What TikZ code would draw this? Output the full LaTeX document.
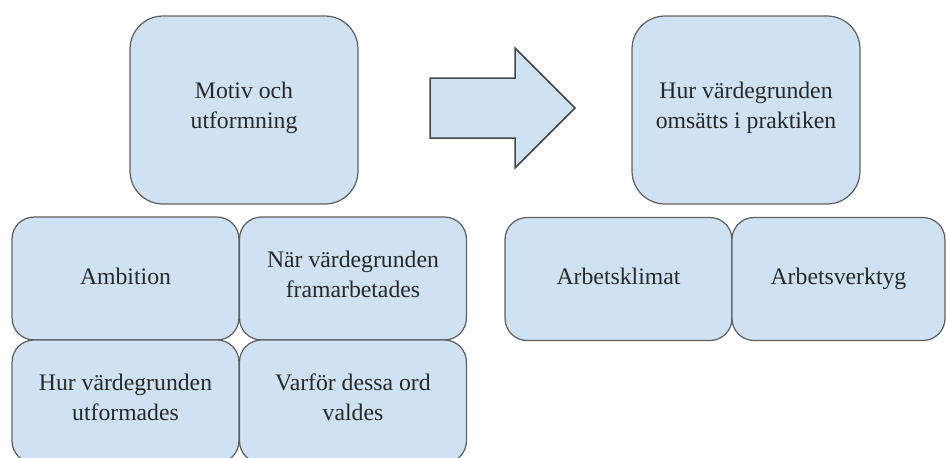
\documentclass[tikz,border=0pt]{standalone}
\usepackage{fontspec}
\setmainfont{Liberation Serif}
\usetikzlibrary{positioning}
\definecolor{boxblue}{RGB}{207,226,243}
\definecolor{boxline}{RGB}{95,95,95}
\definecolor{arrowline}{RGB}{70,70,70}
\definecolor{textgray}{RGB}{40,40,40}

\begin{document}
\begin{tikzpicture}[x=0.02cm,y=-0.02cm,on grid,
    box/.style={draw=boxline,line width=0.7pt,fill=boxblue,rounded corners=0.44cm,
      align=center,text=textgray,font=\fontsize{13.5}{17}\selectfont,
      execute at begin node=\strut,execute at end node=\strut,
      minimum width=4.54cm,minimum height=2.46cm,inner sep=0pt},
    bigbox/.style={box,rounded corners=0.66cm,minimum width=4.56cm,minimum height=3.76cm}]
      \clip (0,0) rectangle (946,457);
      \node[bigbox] (motiv) at (244,110) {Motiv och\\utformning};
      \node[bigbox] (praktik) at (746,110) {Hur värdegrunden\\omsätts i praktiken};
      \node[box] (ambition) at (125.5,278.5) {Ambition};
      \node[box] (nar) [right=4.55cm of ambition] {När värdegrunden\\framarbetades};
      \node[box] (hur) [below=2.46cm of ambition] {Hur värdegrunden\\utformades};
      \node[box] (varfor) [right=4.55cm of hur] {Varför dessa ord\\valdes};
      \node[box] (klimat) at (618.5,279) {Arbetsklimat};
      \node[box,minimum width=4.26cm] (verktyg) [right=4.4cm of klimat] {Arbetsverktyg};
      \filldraw[draw=arrowline,fill=boxblue,line width=0.85pt,line join=miter]
        (430,78) -- (515,78) -- (515,48) -- (575,108) -- (515,168)
        -- (515,138) -- (430,138) -- cycle;
    \end{tikzpicture}
\end{document}
